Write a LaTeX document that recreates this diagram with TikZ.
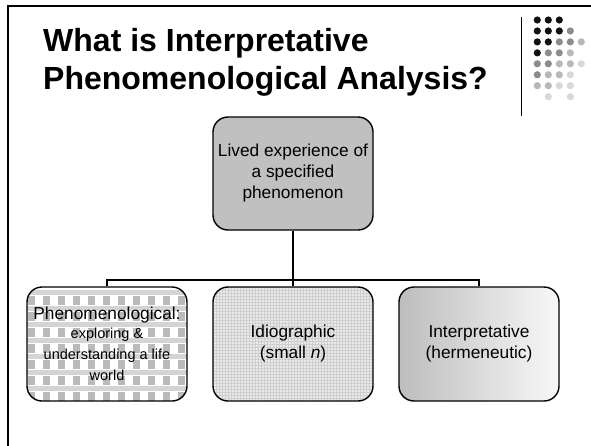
\documentclass[tikz,border=0pt]{standalone}
\usepackage{fontspec}
\setmainfont{Liberation Sans}
\usetikzlibrary{calc}
\definecolor{dK}{HTML}{111111}
\definecolor{dG}{HTML}{8C8C8C}
\definecolor{dL}{HTML}{B8B8B8}
\definecolor{dX}{HTML}{D8D8D8}
\definecolor{topfill}{HTML}{C0C0C0}
\definecolor{plaidsq}{HTML}{BABABA}
\definecolor{plaidband}{HTML}{D4D4D4}
\definecolor{gridbg}{HTML}{E9E9E9}
\definecolor{gridln}{HTML}{CFCFCF}
\definecolor{shl}{HTML}{BDBDBD}
\definecolor{shr}{HTML}{F8F8F8}
\newcommand\smtxt{\fontsize{14.5}{17.5}\selectfont}
\tikzset{
  boxbase/.style={draw=black, line width=1.4pt, rounded corners=15pt,
    minimum width=160pt, minimum height=114pt, inner sep=2pt,
    align=center, font=\fontsize{17.3}{21}\selectfont},
  conn/.style={draw=black, line width=1.3pt},
  dot/.style={radius=3.6pt},
  titletext/.style={anchor=base west, inner sep=0pt, font=\bfseries\fontsize{32}{38}\selectfont},
}
\begin{document}
\begin{tikzpicture}[x=1pt,y=-1pt]
\useasboundingbox (0,0) rectangle (591,445);
% frame
\draw[line width=2pt] (7.5,460) -- (7.5,6) -- (610,6);
% separator line
\draw[line width=1pt] (521.7,17) -- (521.7,116);
% title
\node[titletext] (t1) at (43,51) {What is Interpretative};
\node[titletext] (t2) at (43,89) {Phenomenological Analysis?};
% dots
\foreach \r/\row in {1/{K,K,K}, 2/{K,K,K,G}, 3/{K,K,G,G,L}, 4/{K,G,G,L}, 5/{G,G,L,L,X}, 6/{G,L,L,X}, 7/{L,L,X,X}}{
  \foreach \c [count=\i] in \row {
    \fill[d\c] ({537.3+(\i-1)*11},{20+(\r-1)*10.95}) circle[dot];
  }
}
\fill[dX] (548.3,96.7) circle[dot];
\fill[dX] (570.3,96.7) circle[dot];
% patterns of the bottom boxes
\begin{scope}
  \clip[rounded corners=15pt] (27,287) rectangle (187,401);
  \fill[white] (27,287) rectangle (187,401);
  \foreach \yy in {290,306,...,400} {\fill[plaidband] (20,\yy) rectangle (200,\yy+5);}
  \foreach \xx in {28,43,...,190} {\foreach \yy in {296,312,...,400} {\fill[plaidsq] (\xx,\yy) rectangle (\xx+7,\yy+9);}}
\end{scope}
\begin{scope}
  \clip[rounded corners=15pt] (213,287) rectangle (373,401);
  \fill[gridbg] (213,287) rectangle (373,401);
  \foreach \xx in {213,216,...,375} {\draw[gridln, line width=0.4pt] (\xx,285) -- (\xx,403);}
  \foreach \yy in {287,290,...,403} {\draw[gridln, line width=0.4pt] (210,\yy) -- (376,\yy);}
\end{scope}
% top box
\node[boxbase, fill=topfill, minimum height=113pt] (top) at (293,173.5)
  {Lived experience of\\a specified\\phenomenon};
% bottom boxes
\node[boxbase] (b1) at (107,344)
  {Phenomenological:\\[-2pt]\smtxt exploring \&\\\smtxt understanding a life\\\smtxt world};
\node[boxbase] (b2) at (293,344) {Idiographic\\(small \textit{n})};
\node[boxbase, left color=shl, right color=shr] (b3) at (479,344) {Interpretative\\(hermeneutic)};
% connectors
\coordinate (bus) at (293,280);
\draw[conn] (top.south) -- (bus);
\draw[conn] (b1.north) -- (b1.north |- bus) -- (b3.north |- bus) -- (b3.north);
\draw[conn] (bus) -- (b2.north);
\end{tikzpicture}
\end{document}
